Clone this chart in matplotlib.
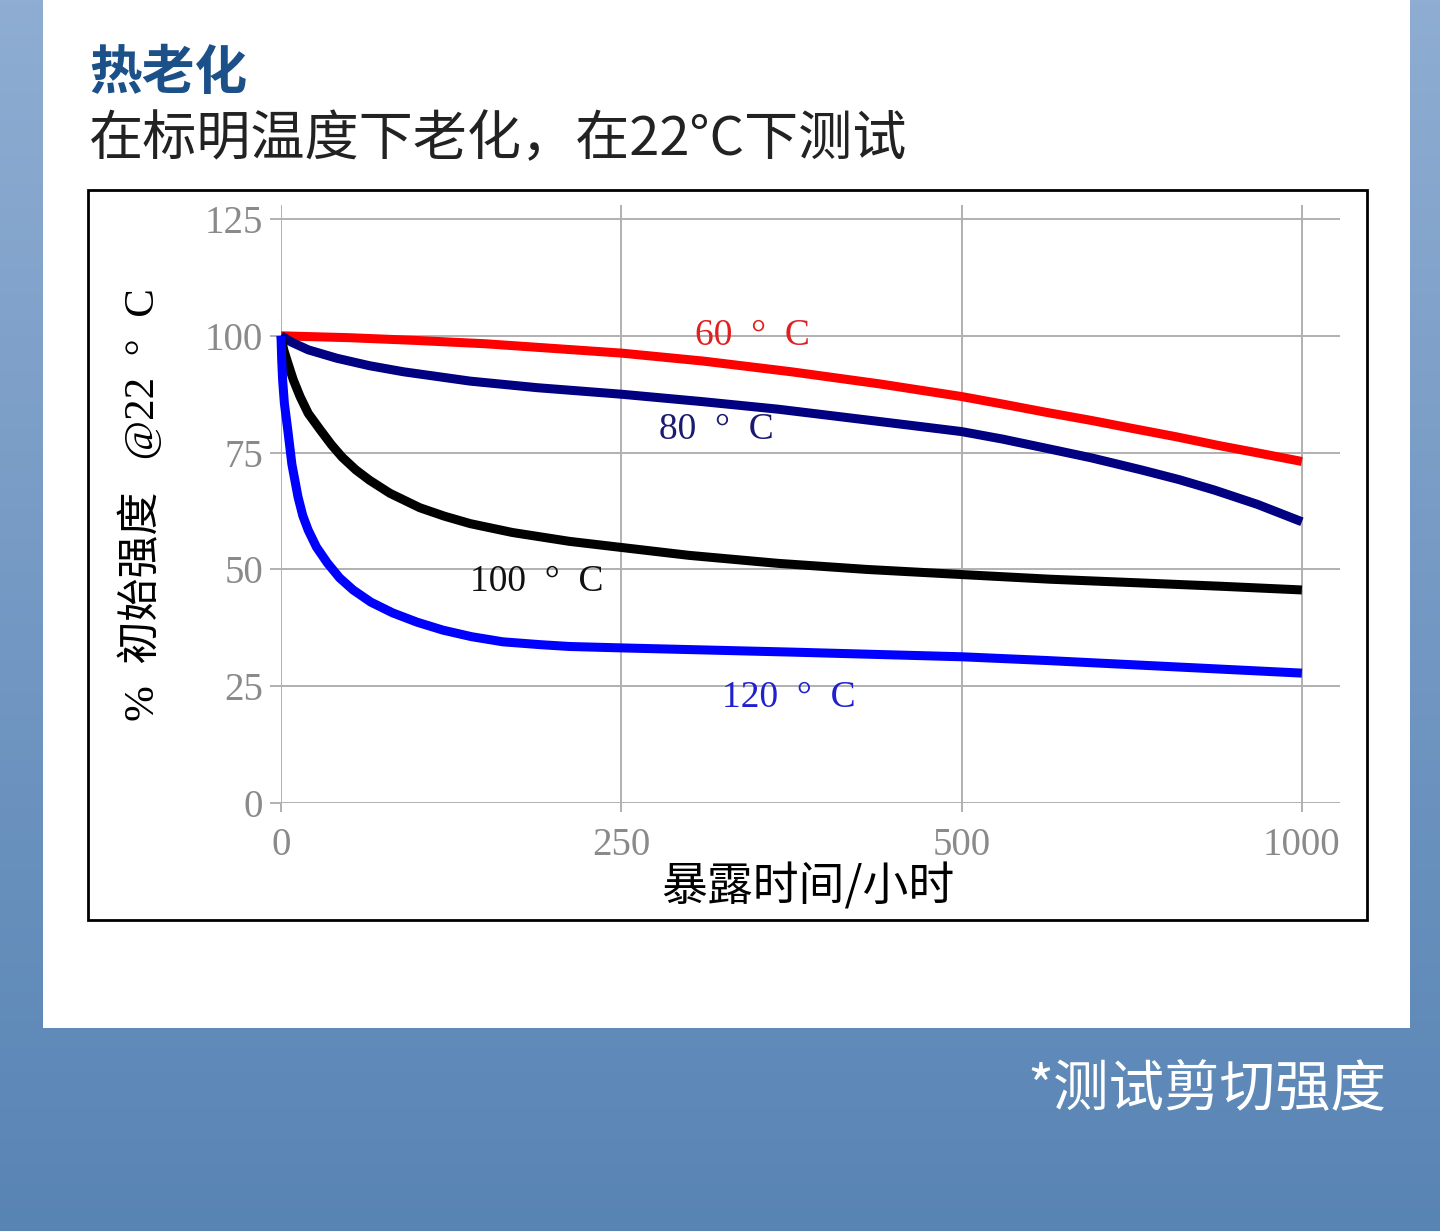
import numpy as np
import matplotlib
matplotlib.use('Agg')
import matplotlib.pyplot as plt
from matplotlib.patches import Rectangle

plt.rcParams['font.family'] = ['Noto Sans CJK SC', 'DejaVu Sans']
plt.rcParams['axes.unicode_minus'] = False

# 数据：暴露时间(小时) 与 初始强度百分比
tick_hours = [0, 250, 500, 1000]
y_ticks = [0, 25, 50, 75, 100, 125]

h60 = [0, 50, 100, 150, 200, 250, 310, 375, 440, 500, 560, 625, 690, 750, 815, 875, 940, 1000]
v60 = [100, 99.6, 99.0, 98.3, 97.3, 96.3, 94.6, 92.3, 89.7, 87.0, 85.4, 83.6, 81.9, 80.2,
       78.4, 76.6, 74.8, 73.1]

h80 = [0, 8, 20, 41, 65, 90, 139, 188, 250, 310, 365, 430, 500, 560, 622, 690, 764, 820,
       871, 935, 1000]
v80 = [100, 98.6, 97.0, 95.2, 93.6, 92.3, 90.3, 88.9, 87.5, 85.9, 84.3, 82.0, 79.5, 77.9,
       76.0, 73.9, 71.3, 69.2, 67.0, 63.9, 60.2]

h100 = [0, 2, 5, 9, 14, 20, 29, 37, 45, 55, 65, 80, 102, 120, 139, 170, 212, 250, 300, 365,
        430, 500, 630, 764, 880, 1000]
v100 = [100, 97.0, 94.2, 90.6, 87.0, 83.4, 79.8, 76.7, 74.0, 71.3, 69.1, 66.3, 63.2, 61.4,
        59.8, 57.9, 56.0, 54.7, 53.0, 51.3, 50.0, 48.9, 47.9, 47.1, 46.4, 45.6]

h120 = [0, 0.5, 1.2, 2.5, 5, 8, 12.5, 16, 20, 26, 34, 43, 53, 66, 82, 100, 119, 140, 163,
        190, 212, 250, 375, 500, 625, 750, 875, 1000]
v120 = [100, 95.0, 90.5, 85.5, 79.8, 72.5, 65.5, 61.5, 58.4, 54.8, 51.4, 48.2, 45.6, 43.0,
        40.7, 38.7, 37.0, 35.6, 34.5, 33.9, 33.5, 33.2, 32.3, 31.3, 30.5, 29.6, 28.7, 27.8]

series = [
    (h60, v60, '#ff0000', '60  °  C', '#e02020', 346, 100.0),
    (h80, v80, '#000080', '80  °  C', '#1a1a70', 320, 79.8),
    (h100, v100, '#000000', '100  °  C', '#111111', 188, 47.3),
    (h120, v120, '#0000ff', '120  °  C', '#2020d0', 373, 22.5),
]


def pos(h):
    # 横轴刻度 0/250/500/1000 等距排列
    return np.interp(h, tick_hours, np.arange(len(tick_hours)))


W, H = 1440, 1231
fig = plt.figure(figsize=(W / 100, H / 100), dpi=100)

# 背景
bg = fig.add_axes([0, 0, 1, 1])
bg.set_xlim(0, W)
bg.set_ylim(H, 0)
bg.axis('off')
top = np.array([143, 173, 210]) / 255
bot = np.array([88, 132, 180]) / 255
t = np.linspace(0, 1, 256)[:, None, None]
grad = top * (1 - t) + bot * t
grad = np.repeat(grad, 2, axis=1)
bg.imshow(grad, extent=[0, W, H, 0], aspect='auto', zorder=0)
bg.add_patch(Rectangle((43, -5), 1367, 1033, facecolor='white', edgecolor='none', zorder=1))
bg.add_patch(Rectangle((88, 190), 1279, 730, facecolor='white', edgecolor='black', lw=2.0, zorder=2))

bg.text(89, 73, '热老化', fontsize=38, fontweight='bold', color='#1c5089', va='center', ha='left', zorder=3)
bg.text(89, 140, '在标明温度下老化，在22°C下测试', fontsize=39, color='#222222', va='center', ha='left', zorder=3)
bg.text(1386, 1090, '*测试剪切强度', fontsize=40, color='white', va='center', ha='right', zorder=3)
bg.text(808, 887, '暴露时间/小时', fontsize=33, color='black', va='center', ha='center', zorder=3)
bg.text(141, 505, '%  初始强度   @22  °  C', fontsize=31, color='black', va='center', ha='center',
        rotation=90, family=['Liberation Serif', 'Noto Sans CJK SC'], zorder=3)

# 主图
ax = fig.add_axes([281 / W, 1 - 803 / H, (1340 - 281) / W, (803 - 205) / H])
ax.patch.set_alpha(0)
ax.set_xlim(0, 3.112)
ax.set_ylim(0, 128)
for s in ax.spines.values():
    s.set_visible(False)
ax.set_xticks(pos(tick_hours))
ax.set_xticklabels([str(v) for v in tick_hours])
ax.set_yticks(y_ticks)
ax.set_yticklabels([str(v) for v in y_ticks])
ax.grid(True, color='#b0b0b0', lw=1.4)
ax.set_axisbelow(True)
ax.tick_params(axis='y', length=8, width=1.4, color='#b0b0b0', pad=5, labelsize=28, labelcolor='#8a8a8a')
ax.tick_params(axis='x', length=6.5, width=1.4, color='#b0b0b0', pad=11, labelsize=28, labelcolor='#8a8a8a')
for lab in ax.get_xticklabels() + ax.get_yticklabels():
    lab.set_family('Liberation Serif')

for h, v, c, lab, lc, lx, ly in series:
    ax.plot(pos(h), v, color=c, lw=6.5, solid_capstyle='butt', solid_joinstyle='round',
            clip_on=False, zorder=3)
    ax.text(pos(lx), ly, lab, color=lc, fontsize=27, ha='center', va='center',
            family=['Liberation Serif', 'DejaVu Serif'], zorder=4)

fig.savefig('out.png', dpi=100)
